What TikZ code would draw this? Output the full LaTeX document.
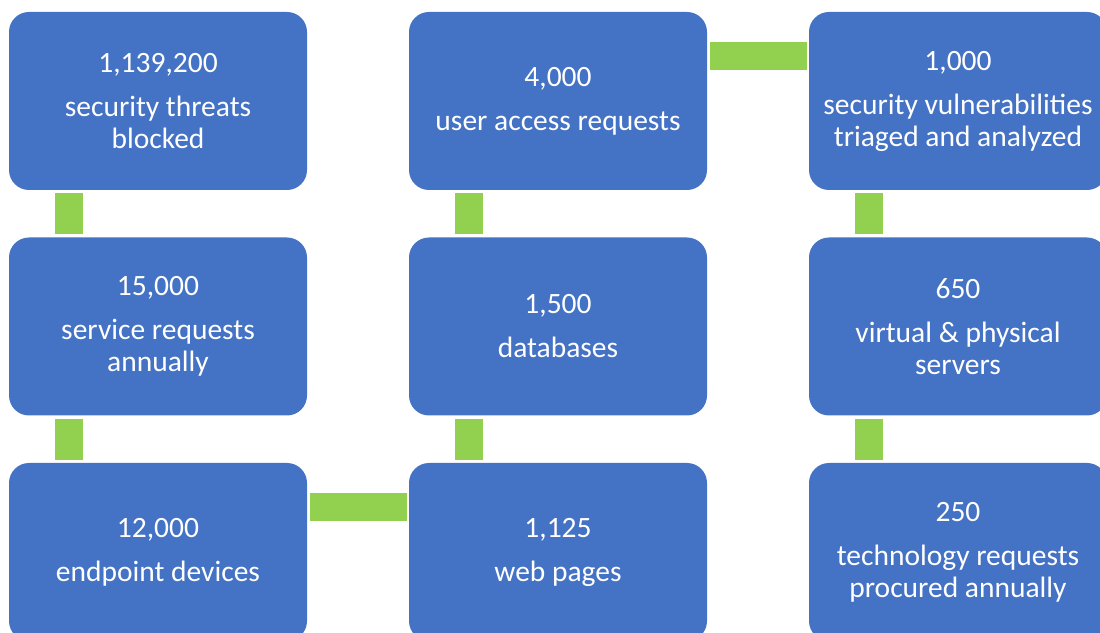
\documentclass[tikz,border=0pt]{standalone}
\usepackage{fontspec}
\setmainfont{Carlito}
\definecolor{boxblue}{HTML}{4472C4}
\definecolor{bargreen}{HTML}{92D050}
\tikzset{
  statbox/.style={fill=boxblue, rounded corners=20pt, minimum width=298pt, minimum height=178pt,
    inner sep=0pt, align=center, text=white, font=\fontsize{29.5}{32}\selectfont},
  bar/.style={draw=bargreen, line width=28pt, line cap=butt}
}
\begin{document}
\begin{tikzpicture}[x=1pt,y=1pt]
\useasboundingbox (0,0) rectangle (1100,632);
\clip (0,0) rectangle (1100,632);
\node[statbox] (t1) at (158,531) {1,139,200\\[12pt]security threats\\blocked};
\node[statbox] (t2) at (558,531) {4,000\\[12pt]user access requests};
\node[statbox] (t3) at (958,531) {1,000\\[12pt]security vulnerabilities\\triaged and analyzed};
\node[statbox] (m1) at (158,305.5) {15,000\\[12pt]service requests\\annually};
\node[statbox] (m2) at (558,305.5) {1,500\\[12pt]databases};
\node[statbox] (m3) at (958,305.5) {650\\[12pt]virtual \& physical\\servers};
\node[statbox] (b1) at (158,80) {12,000\\[12pt]endpoint devices};
\node[statbox] (b2) at (558,80) {1,125\\[12pt]web pages};
\node[statbox] (b3) at (958,80) {250\\[12pt]technology requests\\procured annually};
\draw[bar] ([shift={(60,-3)}]t1.south west) -- ([shift={(60,3)}]m1.north west);
\draw[bar] ([shift={(60,-3)}]m1.south west) -- ([shift={(60,3)}]b1.north west);
\draw[bar] ([shift={(3,-44)}]b1.north east) -- ([shift={(-2,-44)}]b2.north west);
\draw[bar] ([shift={(60,3)}]b2.north west) -- ([shift={(60,-3)}]m2.south west);
\draw[bar] ([shift={(60,3)}]m2.north west) -- ([shift={(60,-3)}]t2.south west);
\draw[bar] ([shift={(3,-44)}]t2.north east) -- ([shift={(-2,-44)}]t3.north west);
\draw[bar] ([shift={(60,-3)}]t3.south west) -- ([shift={(60,3)}]m3.north west);
\draw[bar] ([shift={(60,-3)}]m3.south west) -- ([shift={(60,3)}]b3.north west);
\end{tikzpicture}
\end{document}
